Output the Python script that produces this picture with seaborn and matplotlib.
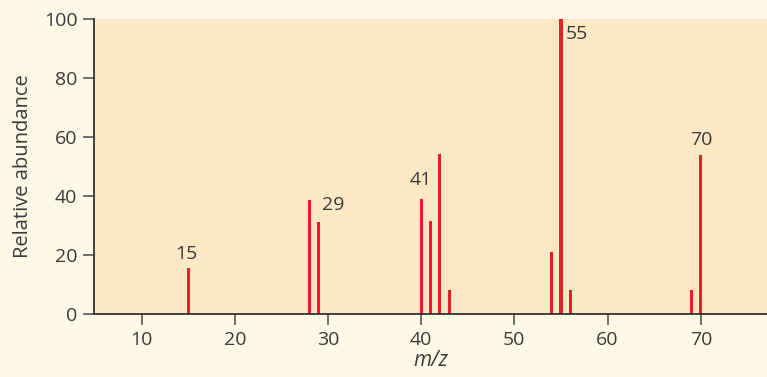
import matplotlib
matplotlib.use("Agg")
import matplotlib.pyplot as plt
import seaborn as sns
import pandas as pd

# Mass spectrum peaks
mz = [15, 28, 29, 40, 41, 42, 43, 54, 55, 56, 69, 70]
abundance = [15.6, 38.6, 31.3, 38.9, 31.5, 54.1, 8, 20.9, 100, 8, 8, 54]

# Peak labels: text, x, y
label_text = ["15", "29", "41", "55", "70"]
label_x = [14.8, 29.4, 40.0, 55.5, 70.0]
label_y = [20.5, 37, 45.5, 95, 59]
label_ha = ["center", "left", "center", "left", "center"]

x_ticks = [10, 20, 30, 40, 50, 60, 70]
y_ticks = [0, 20, 40, 60, 80, 100]

sns.set_theme(style="ticks")
plt.rcParams["font.family"] = ["Open Sans", "DejaVu Sans"]

outer_bg = "#fef9e7"
panel_bg = "#fde8c6"
text_col = "#3a3a3a"
bar_col = "#ee1c25"

fig = plt.figure(figsize=(7.67, 3.77), dpi=100, facecolor=outer_bg)
ax = fig.add_axes([94 / 767, 1 - 314 / 377, (767 - 94) / 767, (314 - 19) / 377])
ax.set_facecolor(panel_bg)

df = pd.DataFrame({"mz": mz, "abundance": abundance})
sns.barplot(data=df, x="mz", y="abundance", native_scale=True, width=0.34,
            color=bar_col, saturation=1, ax=ax, edgecolor="none")

for t, x, y, ha in zip(label_text, label_x, label_y, label_ha):
    ax.text(x, y, t, ha=ha, va="center", fontsize=14, color=text_col)

ax.set_xlim(4.9, 77.1)
ax.set_ylim(0, 100)
ax.set_xticks(x_ticks)
ax.set_yticks(y_ticks)
ax.tick_params(axis="both", labelsize=14, labelcolor=text_col, color="#555555",
               length=8, width=1.2, pad=4)
ax.set_xlabel("m/z", fontsize=15, style="italic", color=text_col, labelpad=1)
ax.set_ylabel("Relative abundance", fontsize=14.5, color=text_col, labelpad=8)

for side in ["top", "right"]:
    ax.spines[side].set_visible(False)
for side in ["left", "bottom"]:
    ax.spines[side].set_color("#333333")
    ax.spines[side].set_linewidth(1.3)

fig.savefig("out.png", dpi=100, facecolor=outer_bg)
